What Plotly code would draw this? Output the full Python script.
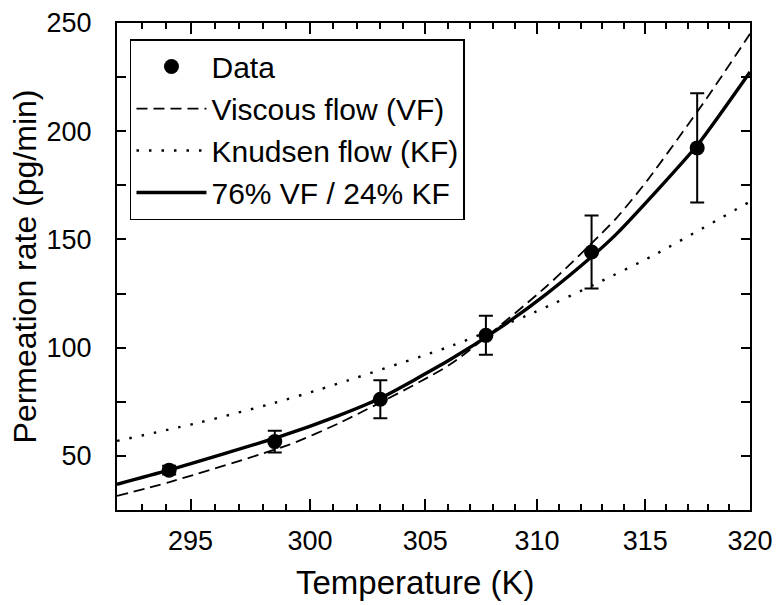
import plotly.graph_objects as go

# ---- data ----
data_T = [294.12, 298.51, 303.03, 307.69, 312.50, 317.46]
data_rate = [43.4, 56.6, 76.2, 105.7, 144.2, 192.3]
data_err = [2.0, 5.0, 8.8, 9.0, 16.9, 25.2]

vf_T = [292.0, 294.1, 299.1, 301.3, 306.1, 310.45, 313.6, 315.1, 317.9, 320.0]
vf_rate = [31.5, 37.8, 55.1, 65.4, 92.3, 128.5, 159.3, 177.3, 215.0, 245.0]

kf_T = [292.0, 295.4, 298.5, 300.45, 306.2, 309.85, 312.8, 315.4, 320.0]
kf_rate = [56.9, 65.5, 74.5, 80.8, 101.0, 116.2, 130.0, 142.7, 167.5]

mix_T = [292.0, 294.1, 298.75, 301.2, 303.0, 306.1, 308.3, 310.45, 312.5, 313.6, 315.5, 317.5, 320.0]
mix_rate = [36.9, 43.4, 59.0, 68.5, 76.5, 94.5, 109.0, 125.0, 142.0, 152.0, 172.0, 194.0, 227.4]

x_major = [295, 300, 305, 310, 315, 320]
x_minor = list(range(292, 321))
y_major = [50, 100, 150, 200, 250]

# the temperature axis of the reference is a reciprocal (1/T) scale
def inv(ts):
    return [1000.0 / t for t in ts]

FONT = "Liberation Sans, Arial, sans-serif"

fig = go.Figure()
fig.add_trace(go.Scatter(
    x=inv(data_T), y=data_rate, mode="markers", name="Data",
    marker=dict(color="black", size=15, symbol="circle"),
    error_y=dict(type="data", array=data_err, visible=True,
                 color="black", thickness=2, width=7),
    legendgroup="a"))
fig.add_trace(go.Scatter(
    x=inv(vf_T), y=vf_rate, mode="lines", name="Viscous flow (VF)",
    line=dict(color="black", width=1.8, dash="11px,6px", shape="spline", smoothing=0.6),
    legendgroup="b"))
fig.add_trace(go.Scatter(
    x=inv(kf_T), y=kf_rate, mode="lines", name="Knudsen flow (KF)",
    line=dict(color="black", width=2.4, dash="2.5px,10px", shape="spline", smoothing=0.6),
    legendgroup="c"))
fig.add_trace(go.Scatter(
    x=inv(mix_T), y=mix_rate, mode="lines", name="76% VF / 24% KF",
    line=dict(color="black", width=3.4, shape="spline", smoothing=0.6),
    legendgroup="d"))

fig.update_layout(
    template="none",
    width=780, height=605,
    margin=dict(l=117, r=30, t=23, b=95, autoexpand=False),
    paper_bgcolor="white", plot_bgcolor="white",
    font=dict(family=FONT, size=27, color="black"),
    showlegend=True,
    legend=dict(x=0.0205, y=0.967, xanchor="left", yanchor="top",
                bordercolor="black", borderwidth=1.5, bgcolor="white",
                font=dict(family=FONT, size=30, color="black"),
                itemwidth=70, tracegroupgap=0, traceorder="normal"),
    annotations=[dict(text="Temperature (K)", xref="paper", yref="paper",
                      x=0.47, y=-0.148, xanchor="center", yanchor="middle",
                      showarrow=False, font=dict(family=FONT, size=33, color="black"))],
)
fig.update_xaxes(
    automargin=False,
    range=[1000.0 / 292.0, 1000.0 / 320.0],
    tickmode="array", tickvals=inv(x_major), ticktext=[str(v) for v in x_major],
    ticks="inside", ticklen=11, tickwidth=2, tickcolor="black",
    minor=dict(tickmode="array", tickvals=inv(x_minor), ticks="inside",
               ticklen=6, tickwidth=2, tickcolor="black", showgrid=False),
    showline=True, linecolor="black", linewidth=2, mirror="allticks",
    showgrid=False, zeroline=False,
    tickfont=dict(family=FONT, size=27), ticklabelstandoff=6,
)
fig.update_yaxes(
    automargin=False,
    range=[25, 250],
    tickmode="array", tickvals=y_major, ticktext=[str(v) for v in y_major],
    ticks="inside", ticklen=9, tickwidth=2, tickcolor="black",
    minor=dict(dtick=25, tick0=25, ticks="inside", ticklen=9, tickwidth=2,
               tickcolor="black", showgrid=False),
    showline=True, linecolor="black", linewidth=2, mirror="allticks",
    showgrid=False, zeroline=False,
    tickfont=dict(family=FONT, size=27), ticklabelstandoff=18,
    title=dict(text="Permeation rate (pg/min)", font=dict(family=FONT, size=32), standoff=0),
)

fig.write_html("out.html", config={"displayModeBar": False},
               post_script="document.body.style.margin='0px';")
